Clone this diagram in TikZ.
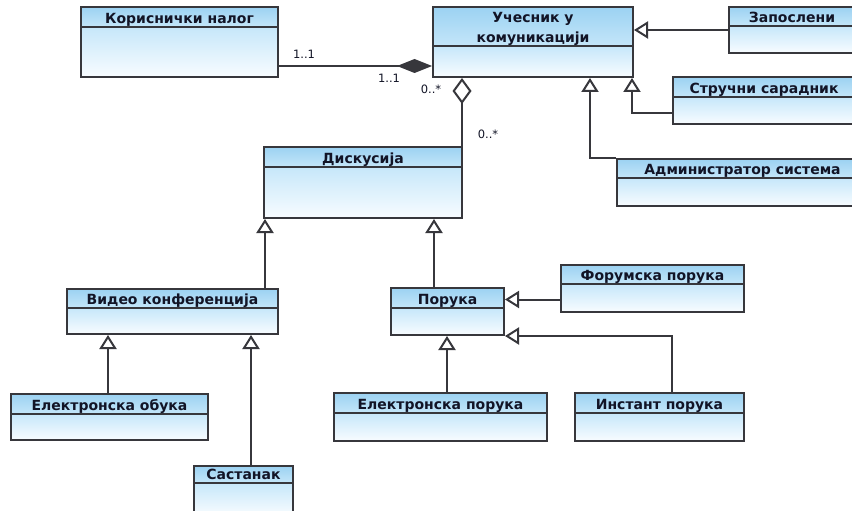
\documentclass[tikz,border=0pt]{standalone}
\usepackage{fontspec}
\setmainfont{DejaVu Sans}
\usetikzlibrary{arrows.meta,fit}

\definecolor{hdtop}{RGB}{156,210,242}
\definecolor{hdbot}{RGB}{196,230,249}
\definecolor{bdtop}{RGB}{198,231,250}
\definecolor{bdbot}{RGB}{248,252,255}
\definecolor{edge}{RGB}{55,55,60}
\definecolor{ink}{RGB}{18,20,38}

\tikzset{
  classframe/.style={draw=edge, line width=2pt, inner sep=0pt},
  classtitle/.style={font=\bfseries\fontsize{14}{20}\selectfont, text=ink, align=center,
    inner sep=0pt, text depth=0pt, anchor=south},
  mult/.style={font=\fontsize{11.5}{13}\selectfont, text=ink, inner sep=0pt},
  link/.style={draw=edge, line width=2pt},
  gen/.style={link, -{Triangle[open, fill=white, length=14pt, width=17pt]}},
  comp/.style={link, -{Diamond[length=35pt, width=14pt]}},
  agg/.style={link, -{Diamond[open, fill=white, length=26pt, width=19pt]}},
}

% class box: name, left, top, right, header bottom, bottom, title
\newcommand\umlclass[7]{%
  \shade[top color=hdtop, bottom color=hdbot] (#2,#3) rectangle (#4,#5);
  \shade[top color=bdtop, bottom color=bdbot] (#2,#5) rectangle (#4,#6);
  \node[classframe, fit={(#2,#3) (#4,#6)}] (#1) {};
  \draw[draw=edge, line width=2pt] (#2,#5) -- (#4,#5);
  \node[classtitle] at ({(#2+#4)/2},{#5-3.5}) {#7};
}

\begin{document}
\begin{tikzpicture}[x=1pt, y=-1pt]
  \path[use as bounding box, fill=white] (0,0) rectangle (852,511);
  \clip (0,0) rectangle (852,511);

  % classes
  \umlclass{kor}{81}{7}{278}{27}{77}{Кориснички налог}
  \umlclass{uch}{433}{7}{633}{46}{77}{Учесник у\\комуникацији}
  \umlclass{zap}{729}{7}{855}{26}{53}{Запослени}
  \umlclass{str}{673}{77}{855}{97}{124}{Стручни сарадник}
  \umlclass{adm}{617}{159}{868}{178}{206}{Администратор система}
  \umlclass{dis}{264}{147}{462}{167}{218}{Дискусија}
  \umlclass{vid}{67}{289}{278}{308}{334}{Видео конференција}
  \umlclass{obu}{11}{394}{208}{414}{440}{Електронска обука}
  \umlclass{sas}{194}{466}{293}{483}{515}{Састанак}
  \umlclass{por}{391}{288}{504}{308}{335}{Порука}
  \umlclass{frm}{561}{265}{744}{284}{312}{Форумска порука}
  \umlclass{epo}{334}{393}{547}{413}{441}{Електронска порука}
  \umlclass{ins}{575}{393}{744}{413}{441}{Инстант порука}

  % composition and aggregation
  \draw[comp] ([yshift=12pt]kor.south east) -- ([yshift=12pt]uch.south west);
  \coordinate (a1) at ([xshift=-1pt]dis.north east);
  \draw[agg] (a1) -- (a1 |- uch.south);

  % generalisations towards the participant
  \draw[gen] (zap.west) -- (zap.west -| uch.east);
  \draw[gen] ([yshift=12pt]str.south west) -| ([xshift=-2pt]uch.south east);
  \draw[gen] (adm.north west) -| ([xshift=-44pt]uch.south east);

  % discussion hierarchy
  \coordinate (d1) at ([xshift=2pt]dis.south west);
  \draw[gen] (d1 |- vid.north) -- (d1);
  \coordinate (d2) at ([xshift=-29pt]dis.south east);
  \draw[gen] (d2 |- por.north) -- (d2);
  \coordinate (v1) at ([xshift=42pt]vid.south west);
  \draw[gen] (v1 |- obu.north) -- (v1);
  \coordinate (v2) at ([xshift=-28pt]vid.south east);
  \draw[gen] (v2 |- sas.north) -- (v2);

  % message hierarchy
  \coordinate (f1) at ([yshift=-11pt]frm.west);
  \draw[gen] (f1) -- (f1 -| por.east);
  \coordinate (i1) at ([xshift=98pt]ins.north west);
  \draw[gen] (i1) |- (por.south east);
  \coordinate (p1) at ([xshift=57pt]por.south west);
  \draw[gen] (p1 |- epo.north) -- (p1);

  % multiplicities
  \node[mult] (m1) at (304,54) {1..1};
  \node[mult] (m2) at (389,78) {1..1};
  \node[mult] (m3) at (431,89) {0..*};
  \node[mult] (m4) at (488,134) {0..*};
\end{tikzpicture}
\end{document}
